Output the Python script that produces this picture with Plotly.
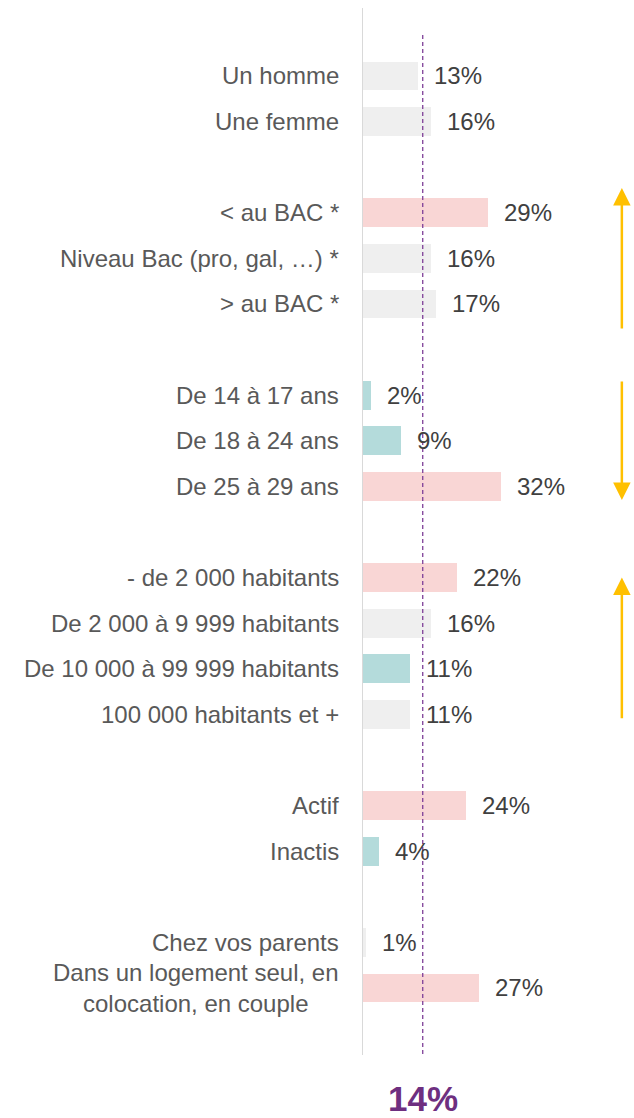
import plotly.graph_objects as go

categories = ["Un homme", "Une femme",
              "< au BAC *", "Niveau Bac (pro, gal, …) *", "> au BAC *",
              "De 14 à 17 ans", "De 18 à 24 ans", "De 25 à 29 ans",
              "- de 2 000 habitants", "De 2 000 à 9 999 habitants",
              "De 10 000 à 99 999 habitants", "100 000 habitants et +",
              "Actif", "Inactis",
              "Chez vos parents", "Dans un logement seul, en<br>colocation, en couple"]
values = [13, 16, 29, 16, 17, 2, 9, 32, 22, 16, 11, 11, 24, 4, 1, 27]
significance = ["=", "=", "+", "=", "=", "-", "-", "+", "+", "=", "-", "=", "+", "-", "=", "+"]
rows = [0, 1, 3, 4, 5, 7, 8, 9, 11, 12, 13, 14, 16, 17, 19, 20]
overall = 14

color_map = {"=": "#efefef", "+": "#f9d6d5", "-": "#b4dbdb"}
colors = [color_map[s] for s in significance]
FONT = "'Liberation Sans', Arial, sans-serif"

fig = go.Figure()
fig.add_trace(go.Bar(x=values, y=rows, orientation="h", marker=dict(color=colors, line_width=0),
                     width=0.63, hoverinfo="skip"))

ann = []
for c, v, r in zip(categories, values, rows):
    ann.append(dict(x=0, xref="paper", y=r, yref="y", text=c, showarrow=False,
                    xanchor="right", align="center", xshift=-21,
                    font=dict(family=FONT, size=24, color="#595959")))
    ann.append(dict(x=v, xref="x", y=r, yref="y", text=f"{v}%", showarrow=False,
                    xanchor="left", xshift=14,
                    font=dict(family=FONT, size=24, color="#404040")))

ann.append(dict(x=overall, xref="x", y=0, yref="paper", text=f"<b>{overall}%</b>", showarrow=False,
                yanchor="top", yshift=-22,
                font=dict(family=FONT, size=35, color="#6e2f80")))

for tail, tip in [(5.57, 2.46), (6.67, 9.3), (14.12, 11.0)]:
    ann.append(dict(x=59.9, y=tip, xref="x", yref="y", ax=59.9, ay=tail, axref="x", ayref="y",
                    showarrow=True, arrowhead=2, arrowsize=1.4, arrowwidth=2.5,
                    arrowcolor="#ffc000", text=""))

shapes = [
    dict(type="line", x0=0, x1=0, xref="x", y0=0, y1=1, yref="paper",
         line=dict(color="#d9d9d9", width=2)),
    dict(type="line", x0=overall, x1=overall, xref="x", y0=-0.9, y1=21.47, yref="y",
         line=dict(color="#7f3f98", width=1.3, dash="4px,3px")),
]

fig.update_layout(
    width=634, height=1118,
    margin=dict(l=362, r=0, t=8, b=63),
    paper_bgcolor="white", plot_bgcolor="white",
    showlegend=False,
    xaxis=dict(range=[0, 62.7], visible=False),
    yaxis=dict(range=[21.47, -1.49], visible=False),
    annotations=ann, shapes=shapes,
    bargap=0,
)
fig.write_html("out.html", config={"displayModeBar": False},
               post_script="document.body.style.margin='0';document.body.style.overflow='hidden';")
